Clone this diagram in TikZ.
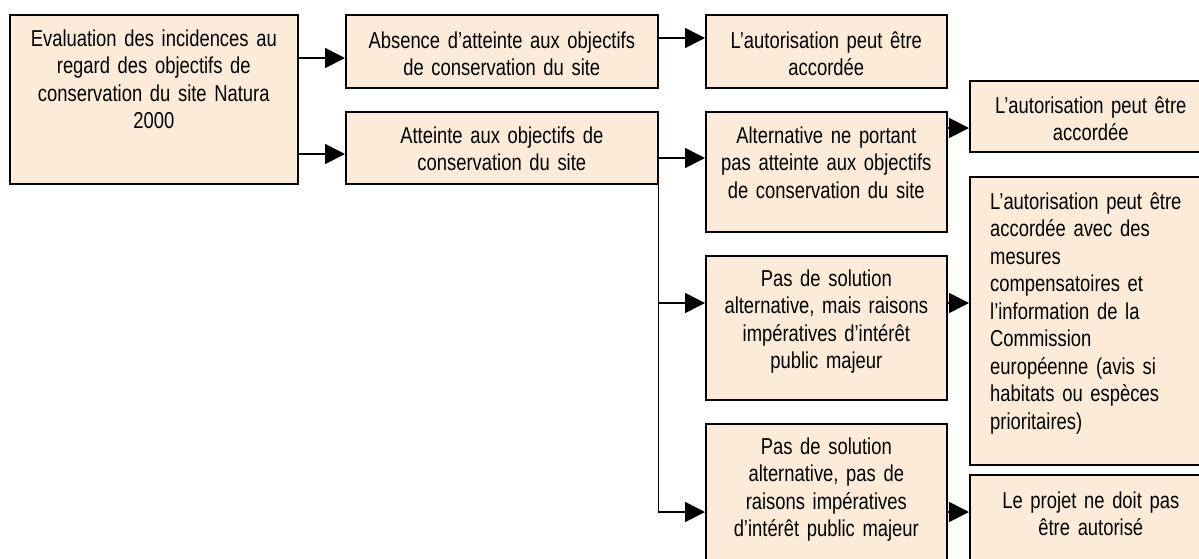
\documentclass[tikz,border=0pt]{standalone}
\usepackage{fontspec}
\setmainfont{Liberation Sans}[FakeStretch=0.8,WordSpace=0.65]
\usetikzlibrary{arrows.meta,calc}
\definecolor{peach}{RGB}{253,235,217}
\begin{document}
\begin{tikzpicture}[x=1pt,y=-1pt,
  bx/.style={draw=black, fill=peach, line width=1.6pt, inner sep=0pt, anchor=north west},
  txt/.style={font=\fontsize{23}{27.5}\selectfont, inner sep=0pt, align=center, text width=#1, anchor=base},
  ltxt/.style={font=\fontsize{23}{27.5}\selectfont, inner sep=0pt, align=left, text width=#1, anchor=base west},
  arr/.style={line width=1.6pt, -{Triangle[length=20pt,width=20pt]}},
  ln/.style={line width=1.6pt}]
\useasboundingbox (0,0) rectangle (1199,558);
\clip (0,0) rectangle (1199,558);
% boxes
\node[bx, minimum width=288pt, minimum height=169pt] (a) at (9,14) {};
\node[bx, minimum width=312pt, minimum height=73pt] (b1) at (345,14) {};
\node[bx, minimum width=312pt, minimum height=72pt] (b2) at (345,111) {};
\node[bx, minimum width=241pt, minimum height=73pt] (c1) at (705,14) {};
\node[bx, minimum width=241pt, minimum height=120pt] (c2) at (705,111) {};
\node[bx, minimum width=241pt, minimum height=144pt] (c3) at (705,255) {};
\node[bx, minimum width=241pt, minimum height=152pt] (c4) at (705,423) {};
\node[bx, minimum width=242pt, minimum height=71pt] (d1) at (969,80) {};
\node[bx, minimum width=242pt, minimum height=288pt] (d2) at (969,176) {};
\node[bx, minimum width=242pt, minimum height=101pt] (d3) at (969,474) {};
% texts
\node[txt=280pt] (at) at ($(a.north)+(0,32)$) {Evaluation des incidences au\\regard des objectifs de\\conservation du site Natura\\2000};
\node[txt=300pt] (b1t) at ($(b1.north)+(0,34)$) {Absence d’atteinte aux objectifs\\de conservation du site};
\node[txt=300pt] (b2t) at ($(b2.north)+(0,32)$) {Atteinte aux objectifs de\\conservation du site};
\node[txt=236pt] (c1t) at ($(c1.north)+(0,34)$) {L’autorisation peut être\\accordée};
\node[txt=236pt] (c2t) at ($(c2.north)+(0,32)$) {Alternative ne portant\\pas atteinte aux objectifs\\de conservation du site};
\node[txt=236pt] (c3t) at ($(c3.north)+(0,31)$) {Pas de solution\\alternative, mais raisons\\impératives d’intérêt\\public majeur};
\node[txt=236pt] (c4t) at ($(c4.north)+(0,31)$) {Pas de solution\\alternative, pas de\\raisons impératives\\d’intérêt public majeur};
\node[txt=236pt] (d1t) at ($(d1.north)+(0,33)$) {L’autorisation peut être\\accordée};
\node[ltxt=215pt] (d2t) at ($(d2.north west)+(21,33)$) {L’autorisation peut être\\accordée avec des\\mesures\\compensatoires et\\l’information de la\\Commission\\européenne (avis si\\habitats ou espèces\\prioritaires)};
\node[txt=236pt] (d3t) at ($(d3.north)+(0,34)$) {Le projet ne doit pas\\être autorisé};
% connector levels
\coordinate (y38) at (0,38);
\coordinate (y58) at (0,58);
\coordinate (y128) at (0,128);
\coordinate (y154) at (0,154);
\coordinate (y158) at (0,158);
\coordinate (y303) at (0,303);
\coordinate (y512) at (0,512);
% connectors
\draw[arr] (a.east |- y58) -- (b1.west |- y58);
\draw[arr] (a.east |- y154) -- (b2.west |- y154);
\draw[arr] (b1.east |- y38) -- (c1.west |- y38);
\draw[arr] (b2.east |- y158) -- (c2.west |- y158);
\draw[arr] (c2.east |- y128) -- (d1.west |- y128);
\draw[arr] (b2.south east) -- (b2.south east |- y512) -- (c4.west |- y512);
\draw[arr] (b2.south east |- y303) -- (c3.west |- y303);
\draw[arr] (c3.east |- y303) -- (d2.west |- y303);
\draw[arr] (c4.east |- y512) -- (d3.west |- y512);
\end{tikzpicture}
\end{document}
